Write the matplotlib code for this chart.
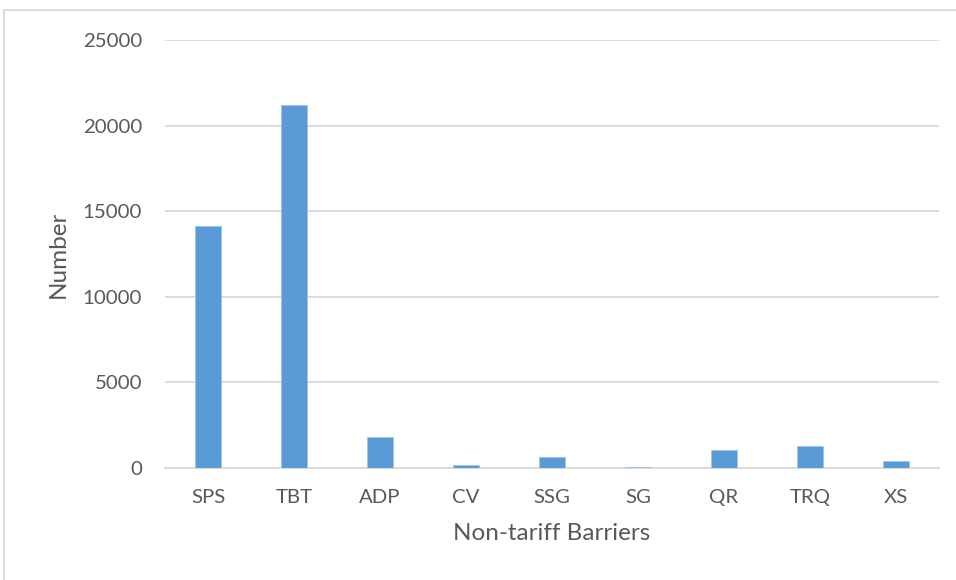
import matplotlib
matplotlib.use("Agg")
import matplotlib.pyplot as plt
from matplotlib.lines import Line2D

categories = ["SPS", "TBT", "ADP", "CV", "SSG", "SG", "QR", "TRQ", "XS"]
values = [14130, 21200, 1810, 160, 625, 40, 1070, 1270, 410]
y_ticks = [0, 5000, 10000, 15000, 20000, 25000]

text_color = "#595959"
grid_color = "#d9d9d9"
bar_color = "#5b9bd5"

plt.rcParams["font.family"] = ["Lato", "DejaVu Sans"]

fig = plt.figure(figsize=(9.56, 5.80), dpi=100)
ax = fig.add_axes([165 / 956, 1 - 468 / 580, (939 - 165) / 956, (468 - 40) / 580])

x = range(len(categories))
ax.bar(x, values, width=0.31, color=bar_color, edgecolor="#9dc3e6", linewidth=0.6, zorder=3)

ax.set_xlim(-0.5, len(categories) - 0.5)
ax.set_ylim(0, 25000)
ax.set_yticks(y_ticks)
ax.set_yticklabels([str(v) for v in y_ticks])
ax.set_xticks(list(x))
ax.set_xticklabels(categories)

ax.grid(axis="y", color=grid_color, linewidth=1.3, zorder=0)
for side in ["top", "right", "left"]:
    ax.spines[side].set_visible(False)
ax.spines["bottom"].set_color(grid_color)
ax.spines["bottom"].set_linewidth(1.3)
ax.tick_params(axis="both", length=0, labelsize=14.7, colors=text_color)
ax.tick_params(axis="y", pad=16.5)
ax.tick_params(axis="x", pad=15)

ax.set_ylabel("Number", fontsize=17.5, color=text_color, labelpad=10)
ax.set_xlabel("Non-tariff Barriers", fontsize=17.5, color=text_color, labelpad=12)

# outer chart frame (top and left edges)
fig.add_artist(Line2D([4 / 956, 4 / 956], [0, 1 - 10 / 580], transform=fig.transFigure,
                      color=grid_color, linewidth=1.3))
fig.add_artist(Line2D([4 / 956, 1], [1 - 10 / 580, 1 - 10 / 580], transform=fig.transFigure,
                      color=grid_color, linewidth=1.3))

fig.savefig("out.png", dpi=100, facecolor="white")
